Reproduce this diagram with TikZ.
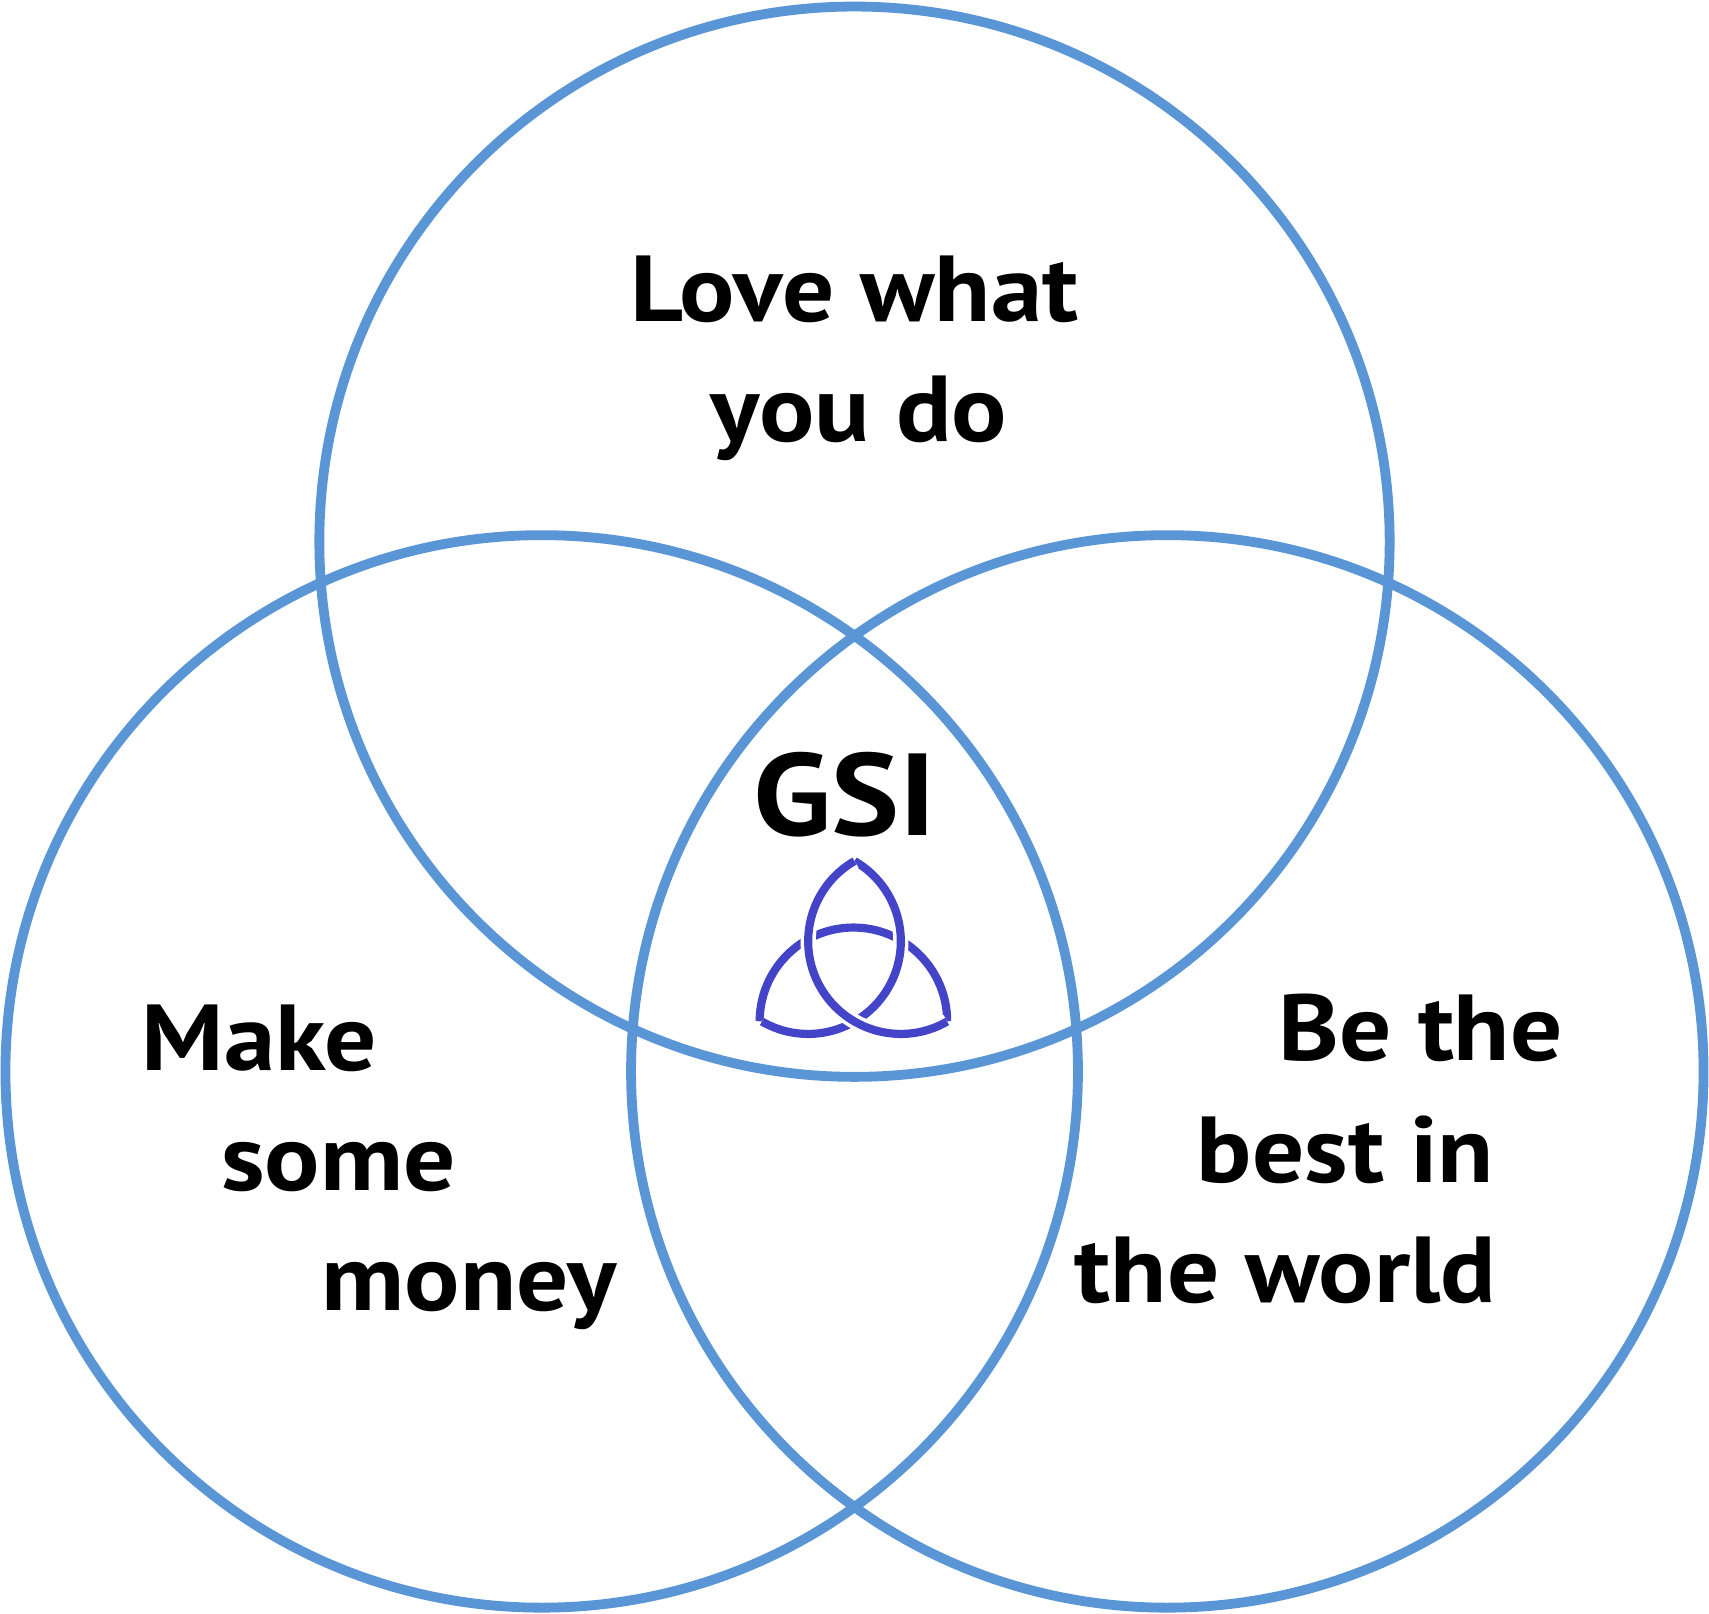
\documentclass[tikz,border=0pt]{standalone}
\usepackage{fontspec}
\setmainfont{PT Sans}[FakeStretch=1.1]
\definecolor{ring}{HTML}{5A96D6}
\definecolor{knot}{HTML}{4444C8}
\begin{document}
\begin{tikzpicture}[x=1pt,y=-1pt,
  ring/.style={draw=ring,line width=9pt},
  knotline/.style={draw=knot,line width=7.5pt,preaction={draw=white,line width=14pt}},
  lbl/.style={anchor=base west,inner sep=0pt,font=\bfseries\fontsize{86}{86}\selectfont}]
\useasboundingbox (0,0) rectangle (1568,1480);
\draw[ring] (784,497) circle (491);
\draw[ring] (497,983) circle (492);
\draw[ring] (1071,983) circle (492);
\node[lbl] (l1) at (578,295) {Love what};
\node[lbl] (l2) at (652,405) {you do};
\node[lbl] (m1) at (130,982) {Make};
\node[lbl] (m2) at (203,1092) {some};
\node[lbl] (m3) at (295,1202) {money};
\node[lbl] (b1) at (1173,973) {Be the};
\node[lbl] (b2) at (1098,1085) {best in};
\node[lbl] (b3) at (986,1195) {the world};
\node[lbl,font=\bfseries\fontsize{107}{107}\selectfont] (g) at (691,767) {GSI};
\draw[knotline] (697,937) arc[start angle=180,end angle=360,radius=86];
\draw[knotline] (784,790) arc[start angle=-60,end angle=120,radius=85];
\draw[knotline] (784,790) arc[start angle=240,end angle=60,radius=85];
\end{tikzpicture}
\end{document}
